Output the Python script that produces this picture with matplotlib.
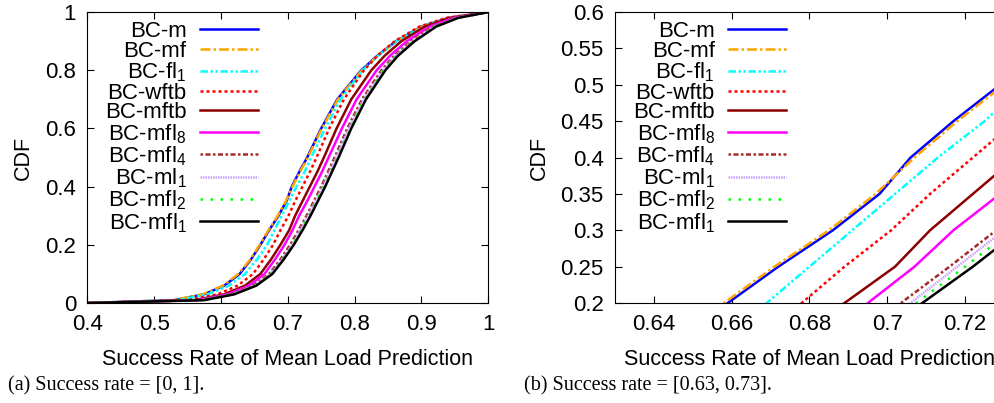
import numpy as np
import matplotlib
matplotlib.use("Agg")
import matplotlib.pyplot as plt
from matplotlib.ticker import FormatStrFormatter

plt.rcParams['font.family'] = ['Liberation Sans', 'DejaVu Sans']
plt.rcParams['mathtext.default'] = 'regular'

# CDF levels and the success rate reached at each level, per scheme
cdf = [0, 0.01, 0.03, 0.06, 0.1, 0.15, 0.2, 0.25, 0.3, 0.35, 0.4, 0.45, 0.5,
       0.6, 0.7, 0.8, 0.85, 0.9, 0.95, 0.98, 1.0]

bc_m = [0.40, 0.530, 0.575, 0.605, 0.628, 0.645, 0.659, 0.672, 0.686, 0.698, 0.706,
        0.717, 0.729, 0.750, 0.774, 0.810, 0.834, 0.862, 0.900, 0.940, 1.0]
bc_mf = [0.40, 0.528, 0.573, 0.603, 0.626, 0.644, 0.658, 0.671, 0.685, 0.697, 0.707,
         0.718, 0.730, 0.751, 0.775, 0.811, 0.835, 0.863, 0.901, 0.941, 1.0]
bc_fl1 = [0.40, 0.535, 0.580, 0.612, 0.636, 0.654, 0.669, 0.680, 0.691, 0.702, 0.713,
          0.725, 0.735, 0.756, 0.779, 0.812, 0.835, 0.863, 0.902, 0.942, 1.0]
bc_wftb = [0.40, 0.550, 0.595, 0.625, 0.648, 0.664, 0.678, 0.689, 0.701, 0.711, 0.722,
           0.733, 0.743, 0.762, 0.784, 0.814, 0.834, 0.860, 0.897, 0.937, 1.0]
bc_mftb = [0.40, 0.560, 0.605, 0.636, 0.659, 0.675, 0.689, 0.702, 0.711, 0.722, 0.733,
           0.744, 0.754, 0.773, 0.795, 0.825, 0.845, 0.870, 0.905, 0.943, 1.0]
bc_mfl8 = [0.40, 0.565, 0.610, 0.642, 0.665, 0.681, 0.695, 0.707, 0.717, 0.729, 0.740,
           0.751, 0.761, 0.781, 0.803, 0.833, 0.853, 0.878, 0.912, 0.948, 1.0]
bc_mfl4 = [0.40, 0.570, 0.615, 0.648, 0.672, 0.689, 0.7035, 0.716, 0.728, 0.739, 0.750,
           0.760, 0.770, 0.789, 0.811, 0.840, 0.859, 0.884, 0.917, 0.952, 1.0]
bc_ml1 = [0.40, 0.572, 0.617, 0.650, 0.674, 0.691, 0.706, 0.718, 0.730, 0.741, 0.752,
          0.762, 0.772, 0.791, 0.813, 0.842, 0.861, 0.886, 0.919, 0.953, 1.0]
bc_mfl2 = [0.40, 0.573, 0.618, 0.651, 0.675, 0.692, 0.7075, 0.720, 0.732, 0.743, 0.754,
           0.764, 0.774, 0.793, 0.815, 0.844, 0.863, 0.888, 0.920, 0.954, 1.0]
bc_mfl1 = [0.40, 0.575, 0.620, 0.653, 0.677, 0.694, 0.709, 0.722, 0.734, 0.745, 0.756,
           0.766, 0.776, 0.795, 0.817, 0.846, 0.865, 0.890, 0.922, 0.955, 1.0]

labels = ['BC-m', 'BC-mf', 'BC-fl$_1$', 'BC-wftb', 'BC-mftb', 'BC-mfl$_8$',
          'BC-mfl$_4$', 'BC-ml$_1$', 'BC-mfl$_2$', 'BC-mfl$_1$']
series = [bc_m, bc_mf, bc_fl1, bc_wftb, bc_mftb, bc_mfl8, bc_mfl4, bc_ml1, bc_mfl2, bc_mfl1]

colors = ['#0000ff', '#ffa500', '#00ffff', '#ff0000', '#8b0000', '#ff00ff',
          '#a52a2a', '#c8a0ff', '#00ff00', '#000000']
styles = ['-', (0, (4, 1.2, 1, 1.2)), (0, (3, 1, 1, 1, 1, 1)), (0, (1.2, 1.2)), '-', '-',
          (0, (1, 1, 2, 1)), (0, (0.6, 0.4)), (0, (1, 3)), '-']

fig = plt.figure(figsize=(9.95, 4.03), dpi=100)
ax1 = fig.add_axes([0.0877, 0.248, 0.403, 0.722])
ax2 = fig.add_axes([0.618, 0.248, 0.391, 0.722])

for ax in (ax1, ax2):
    for s, lab, c, ls in zip(series, labels, colors, styles):
        ax.plot(s, cdf, color=c, ls=ls, lw=1.8, label=lab)
    ax.tick_params(direction='in', top=True, right=True, length=5, labelsize=16, pad=8)
    ax.set_ylabel('CDF', fontsize=15.5, labelpad=8)
    ax.set_xlabel('Success Rate of Mean Load Prediction', fontsize=15.5, labelpad=10)
    ax.xaxis.set_major_formatter(FormatStrFormatter('%g'))
    ax.yaxis.set_major_formatter(FormatStrFormatter('%g'))

ax1.set_xlim(0.4, 1.0)
ax1.set_ylim(0, 1)
ax1.set_xticks(np.arange(0.4, 1.01, 0.1))
ax1.set_yticks(np.arange(0, 1.01, 0.2))

ax2.set_xlim(0.63, 0.73)
ax2.set_ylim(0.2, 0.6)
ax2.set_xticks([0.64, 0.66, 0.68, 0.70, 0.72])
ax2.set_yticks(np.arange(0.2, 0.601, 0.05))

for ax, xa in ((ax1, 0.447), (ax2, 0.462)):
    ax.legend(loc='upper right', bbox_to_anchor=(xa, 1.0), frameon=False, fontsize=16,
              markerfirst=False, handlelength=2.6, handletextpad=0.6,
              labelspacing=-0.06, borderaxespad=0.0, borderpad=0.4)

fig.text(0.008, 0.03, '(a) Success rate = [0, 1].', family='Liberation Serif', fontsize=14.5)
fig.text(0.527, 0.03, '(b) Success rate = [0.63, 0.73].', family='Liberation Serif', fontsize=14.5)

fig.savefig('out.png', dpi=100)
